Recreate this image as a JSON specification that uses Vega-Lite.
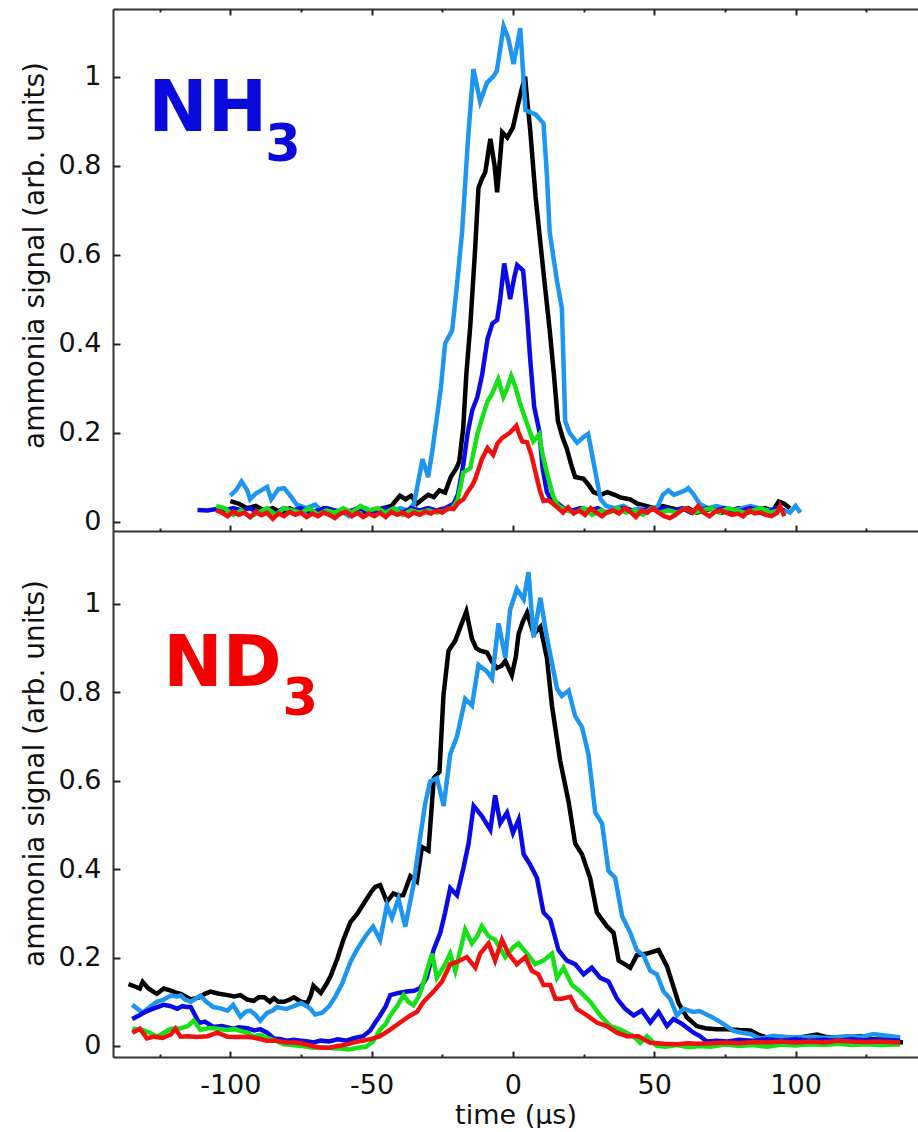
{
"$schema": "https://vega.github.io/schema/vega-lite/v6.json",
"padding": {"left": 20, "top": 8, "right": 0, "bottom": 0},
"autosize": {"type": "pad"},
"spacing": 0,
"bounds": "flush",
"config": {
  "view": {"stroke": null},
  "font": "DejaVu Sans",
  "axis": {"domainColor": "#333", "domainWidth": 2, "tickColor": "#222", "tickWidth": 2, "grid": false,
           "labelFont": "DejaVu Sans", "labelFontSize": 27, "labelColor": "#111", "titleFont": "DejaVu Sans", "titleFontSize": 28, "titleFontWeight": "normal", "titleColor": "#111"}
},
"datasets": {
"nh3": [
{"s":"black","t":-100,"v":0.046},{"s":"black","t":-97,"v":0.04},{"s":"black","t":-94,"v":0.03},{"s":"black","t":-91,"v":0.035},{"s":"black","t":-88,"v":0.025},{"s":"black","t":-85,"v":0.03},{"s":"black","t":-82,"v":0.02},{"s":"black","t":-79,"v":0.03},{"s":"black","t":-76,"v":0.02},{"s":"black","t":-73,"v":0.025},{"s":"black","t":-70,"v":0.02},{"s":"black","t":-67,"v":0.03},{"s":"black","t":-64,"v":0.02},{"s":"black","t":-61,"v":0.025},{"s":"black","t":-58,"v":0.02},{"s":"black","t":-55,"v":0.03},{"s":"black","t":-52,"v":0.02},{"s":"black","t":-49,"v":0.025},{"s":"black","t":-46,"v":0.03},{"s":"black","t":-43,"v":0.035},{"s":"black","t":-40,"v":0.058},{"s":"black","t":-38,"v":0.05},{"s":"black","t":-36,"v":0.058},{"s":"black","t":-34,"v":0.04},{"s":"black","t":-32,"v":0.05},{"s":"black","t":-30,"v":0.06},{"s":"black","t":-28,"v":0.055},{"s":"black","t":-26,"v":0.07},{"s":"black","t":-24,"v":0.065},{"s":"black","t":-22,"v":0.1},{"s":"black","t":-20,"v":0.12},{"s":"black","t":-19,"v":0.135},{"s":"black","t":-17.6,"v":0.21},{"s":"black","t":-16.5,"v":0.33},{"s":"black","t":-15.1,"v":0.44},{"s":"black","t":-13.5,"v":0.6},{"s":"black","t":-12.2,"v":0.75},{"s":"black","t":-11,"v":0.77},{"s":"black","t":-9.8,"v":0.785},{"s":"black","t":-8,"v":0.86},{"s":"black","t":-6.5,"v":0.8},{"s":"black","t":-5.6,"v":0.74},{"s":"black","t":-4.5,"v":0.82},{"s":"black","t":-3.8,"v":0.875},{"s":"black","t":-2,"v":0.863},{"s":"black","t":0,"v":0.886},{"s":"black","t":1.9,"v":0.94},{"s":"black","t":3,"v":0.97},{"s":"black","t":4.3,"v":1.0},{"s":"black","t":5,"v":0.95},{"s":"black","t":6.1,"v":0.88},{"s":"black","t":8,"v":0.73},{"s":"black","t":10.8,"v":0.56},{"s":"black","t":13,"v":0.43},{"s":"black","t":14.5,"v":0.33},{"s":"black","t":15.9,"v":0.226},{"s":"black","t":17.5,"v":0.19},{"s":"black","t":19,"v":0.165},{"s":"black","t":20.5,"v":0.13},{"s":"black","t":22,"v":0.1},{"s":"black","t":25,"v":0.096},{"s":"black","t":27,"v":0.08},{"s":"black","t":28.5,"v":0.066},{"s":"black","t":31,"v":0.06},{"s":"black","t":33.4,"v":0.066},{"s":"black","t":36,"v":0.06},{"s":"black","t":38,"v":0.054},{"s":"black","t":41.5,"v":0.05},{"s":"black","t":44,"v":0.04},{"s":"black","t":47,"v":0.035},{"s":"black","t":50,"v":0.03},{"s":"black","t":53,"v":0.035},{"s":"black","t":56,"v":0.03},{"s":"black","t":59,"v":0.025},{"s":"black","t":62,"v":0.03},{"s":"black","t":65,"v":0.02},{"s":"black","t":68,"v":0.025},{"s":"black","t":71,"v":0.03},{"s":"black","t":74,"v":0.02},{"s":"black","t":77,"v":0.025},{"s":"black","t":80,"v":0.03},{"s":"black","t":83,"v":0.02},{"s":"black","t":86,"v":0.025},{"s":"black","t":89,"v":0.03},{"s":"black","t":92,"v":0.025},{"s":"black","t":94,"v":0.045},{"s":"black","t":96,"v":0.04},{"s":"black","t":98,"v":0.03},
{"s":"sky","t":-100,"v":0.058},{"s":"sky","t":-98,"v":0.07},{"s":"sky","t":-96,"v":0.09},{"s":"sky","t":-94,"v":0.07},{"s":"sky","t":-93,"v":0.05},{"s":"sky","t":-91,"v":0.063},{"s":"sky","t":-89,"v":0.07},{"s":"sky","t":-87,"v":0.078},{"s":"sky","t":-85.5,"v":0.05},{"s":"sky","t":-83,"v":0.073},{"s":"sky","t":-81,"v":0.075},{"s":"sky","t":-79,"v":0.06},{"s":"sky","t":-76.5,"v":0.038},{"s":"sky","t":-73,"v":0.03},{"s":"sky","t":-70,"v":0.038},{"s":"sky","t":-67,"v":0.02},{"s":"sky","t":-64,"v":0.015},{"s":"sky","t":-61,"v":0.025},{"s":"sky","t":-58,"v":0.012},{"s":"sky","t":-55,"v":0.02},{"s":"sky","t":-52,"v":0.03},{"s":"sky","t":-49,"v":0.015},{"s":"sky","t":-46,"v":0.025},{"s":"sky","t":-43,"v":0.02},{"s":"sky","t":-40,"v":0.03},{"s":"sky","t":-37,"v":0.025},{"s":"sky","t":-35,"v":0.04},{"s":"sky","t":-33.5,"v":0.09},{"s":"sky","t":-32,"v":0.14},{"s":"sky","t":-30,"v":0.1},{"s":"sky","t":-28.5,"v":0.16},{"s":"sky","t":-27,"v":0.23},{"s":"sky","t":-25.5,"v":0.3},{"s":"sky","t":-24,"v":0.4},{"s":"sky","t":-21.5,"v":0.43},{"s":"sky","t":-20,"v":0.52},{"s":"sky","t":-18,"v":0.65},{"s":"sky","t":-16,"v":0.85},{"s":"sky","t":-14,"v":1.017},{"s":"sky","t":-11.6,"v":0.944},{"s":"sky","t":-9.2,"v":0.986},{"s":"sky","t":-7,"v":1.0},{"s":"sky","t":-5.7,"v":1.013},{"s":"sky","t":-3.3,"v":1.113},{"s":"sky","t":-1.6,"v":1.085},{"s":"sky","t":0.2,"v":1.028},{"s":"sky","t":2.6,"v":1.109},{"s":"sky","t":4.4,"v":0.925},{"s":"sky","t":6,"v":0.92},{"s":"sky","t":8,"v":0.915},{"s":"sky","t":10.8,"v":0.895},{"s":"sky","t":12,"v":0.78},{"s":"sky","t":13,"v":0.65},{"s":"sky","t":15.6,"v":0.54},{"s":"sky","t":17.3,"v":0.48},{"s":"sky","t":18.5,"v":0.225},{"s":"sky","t":20,"v":0.2},{"s":"sky","t":22.7,"v":0.177},{"s":"sky","t":25,"v":0.19},{"s":"sky","t":26.6,"v":0.197},{"s":"sky","t":28,"v":0.15},{"s":"sky","t":29.5,"v":0.1},{"s":"sky","t":31,"v":0.05},{"s":"sky","t":33,"v":0.035},{"s":"sky","t":36,"v":0.03},{"s":"sky","t":39,"v":0.035},{"s":"sky","t":42,"v":0.025},{"s":"sky","t":45,"v":0.03},{"s":"sky","t":48,"v":0.025},{"s":"sky","t":51,"v":0.03},{"s":"sky","t":53,"v":0.06},{"s":"sky","t":55,"v":0.07},{"s":"sky","t":57,"v":0.06},{"s":"sky","t":59,"v":0.065},{"s":"sky","t":61,"v":0.07},{"s":"sky","t":62,"v":0.075},{"s":"sky","t":64,"v":0.06},{"s":"sky","t":66,"v":0.04},{"s":"sky","t":69,"v":0.03},{"s":"sky","t":72,"v":0.035},{"s":"sky","t":75,"v":0.03},{"s":"sky","t":78,"v":0.025},{"s":"sky","t":81,"v":0.03},{"s":"sky","t":84,"v":0.035},{"s":"sky","t":87,"v":0.03},{"s":"sky","t":90,"v":0.025},{"s":"sky","t":93,"v":0.03},{"s":"sky","t":96,"v":0.025},{"s":"sky","t":98,"v":0.02},{"s":"sky","t":100,"v":0.035},{"s":"sky","t":101.7,"v":0.02},
{"s":"blue","t":-111.6,"v":0.026},{"s":"blue","t":-108,"v":0.025},{"s":"blue","t":-105,"v":0.028},{"s":"blue","t":-102,"v":0.025},{"s":"blue","t":-99,"v":0.03},{"s":"blue","t":-96,"v":0.025},{"s":"blue","t":-93,"v":0.03},{"s":"blue","t":-90,"v":0.02},{"s":"blue","t":-87,"v":0.025},{"s":"blue","t":-84,"v":0.02},{"s":"blue","t":-81,"v":0.03},{"s":"blue","t":-78,"v":0.025},{"s":"blue","t":-75,"v":0.03},{"s":"blue","t":-72,"v":0.02},{"s":"blue","t":-69,"v":0.025},{"s":"blue","t":-66,"v":0.03},{"s":"blue","t":-63,"v":0.025},{"s":"blue","t":-60,"v":0.02},{"s":"blue","t":-57,"v":0.025},{"s":"blue","t":-54,"v":0.03},{"s":"blue","t":-51,"v":0.02},{"s":"blue","t":-48,"v":0.025},{"s":"blue","t":-45,"v":0.03},{"s":"blue","t":-42,"v":0.025},{"s":"blue","t":-39,"v":0.02},{"s":"blue","t":-36,"v":0.03},{"s":"blue","t":-33,"v":0.025},{"s":"blue","t":-30,"v":0.03},{"s":"blue","t":-27,"v":0.025},{"s":"blue","t":-24,"v":0.03},{"s":"blue","t":-21,"v":0.04},{"s":"blue","t":-19.5,"v":0.06},{"s":"blue","t":-17.6,"v":0.127},{"s":"blue","t":-16,"v":0.2},{"s":"blue","t":-14.4,"v":0.25},{"s":"blue","t":-12.6,"v":0.28},{"s":"blue","t":-10.9,"v":0.33},{"s":"blue","t":-9,"v":0.41},{"s":"blue","t":-7.3,"v":0.445},{"s":"blue","t":-5.6,"v":0.453},{"s":"blue","t":-4.5,"v":0.5},{"s":"blue","t":-3.1,"v":0.58},{"s":"blue","t":-2,"v":0.54},{"s":"blue","t":-1,"v":0.5},{"s":"blue","t":0.5,"v":0.55},{"s":"blue","t":1.5,"v":0.576},{"s":"blue","t":3.6,"v":0.564},{"s":"blue","t":5,"v":0.464},{"s":"blue","t":6.1,"v":0.365},{"s":"blue","t":7.5,"v":0.258},{"s":"blue","t":9.3,"v":0.204},{"s":"blue","t":10.5,"v":0.12},{"s":"blue","t":12,"v":0.066},{"s":"blue","t":13.5,"v":0.05},{"s":"blue","t":15.6,"v":0.042},{"s":"blue","t":18,"v":0.03},{"s":"blue","t":21,"v":0.025},{"s":"blue","t":24,"v":0.03},{"s":"blue","t":27,"v":0.025},{"s":"blue","t":30,"v":0.03},{"s":"blue","t":33,"v":0.02},{"s":"blue","t":36,"v":0.025},{"s":"blue","t":39,"v":0.03},{"s":"blue","t":42,"v":0.025},{"s":"blue","t":45,"v":0.02},{"s":"blue","t":48,"v":0.03},{"s":"blue","t":51,"v":0.025},{"s":"blue","t":54,"v":0.03},{"s":"blue","t":57,"v":0.025},{"s":"blue","t":60,"v":0.03},{"s":"blue","t":63,"v":0.02},{"s":"blue","t":66,"v":0.025},{"s":"blue","t":69,"v":0.03},{"s":"blue","t":72,"v":0.025},{"s":"blue","t":75,"v":0.03},{"s":"blue","t":78,"v":0.02},{"s":"blue","t":81,"v":0.025},{"s":"blue","t":84,"v":0.03},{"s":"blue","t":87,"v":0.025},{"s":"blue","t":90,"v":0.02},{"s":"blue","t":93,"v":0.03},{"s":"blue","t":96,"v":0.025},
{"s":"green","t":-105,"v":0.035},{"s":"green","t":-102,"v":0.03},{"s":"green","t":-99,"v":0.015},{"s":"green","t":-96,"v":0.025},{"s":"green","t":-93,"v":0.01},{"s":"green","t":-90,"v":0.02},{"s":"green","t":-87,"v":0.03},{"s":"green","t":-84,"v":0.015},{"s":"green","t":-81,"v":0.03},{"s":"green","t":-78,"v":0.025},{"s":"green","t":-75,"v":0.02},{"s":"green","t":-72,"v":0.03},{"s":"green","t":-69,"v":0.015},{"s":"green","t":-66,"v":0.025},{"s":"green","t":-63,"v":0.02},{"s":"green","t":-60,"v":0.03},{"s":"green","t":-57,"v":0.02},{"s":"green","t":-54,"v":0.035},{"s":"green","t":-51,"v":0.025},{"s":"green","t":-48,"v":0.03},{"s":"green","t":-45,"v":0.02},{"s":"green","t":-42,"v":0.03},{"s":"green","t":-39,"v":0.015},{"s":"green","t":-36,"v":0.025},{"s":"green","t":-33,"v":0.02},{"s":"green","t":-30,"v":0.025},{"s":"green","t":-27,"v":0.02},{"s":"green","t":-24,"v":0.025},{"s":"green","t":-21.5,"v":0.03},{"s":"green","t":-19.7,"v":0.046},{"s":"green","t":-18.5,"v":0.08},{"s":"green","t":-17.6,"v":0.11},{"s":"green","t":-15.1,"v":0.12},{"s":"green","t":-12.6,"v":0.196},{"s":"green","t":-11,"v":0.23},{"s":"green","t":-9,"v":0.27},{"s":"green","t":-7.3,"v":0.288},{"s":"green","t":-5.2,"v":0.32},{"s":"green","t":-3.4,"v":0.28},{"s":"green","t":-2,"v":0.3},{"s":"green","t":-0.6,"v":0.327},{"s":"green","t":1,"v":0.3},{"s":"green","t":2.5,"v":0.265},{"s":"green","t":5,"v":0.22},{"s":"green","t":7.2,"v":0.18},{"s":"green","t":9.3,"v":0.196},{"s":"green","t":10.5,"v":0.15},{"s":"green","t":12,"v":0.11},{"s":"green","t":14.2,"v":0.058},{"s":"green","t":16,"v":0.035},{"s":"green","t":19,"v":0.025},{"s":"green","t":22,"v":0.02},{"s":"green","t":25,"v":0.03},{"s":"green","t":28,"v":0.015},{"s":"green","t":31,"v":0.025},{"s":"green","t":34,"v":0.02},{"s":"green","t":37,"v":0.03},{"s":"green","t":40,"v":0.02},{"s":"green","t":43,"v":0.025},{"s":"green","t":46,"v":0.015},{"s":"green","t":49,"v":0.03},{"s":"green","t":52,"v":0.02},{"s":"green","t":55,"v":0.025},{"s":"green","t":58,"v":0.02},{"s":"green","t":61,"v":0.03},{"s":"green","t":64,"v":0.02},{"s":"green","t":67,"v":0.025},{"s":"green","t":70,"v":0.03},{"s":"green","t":73,"v":0.02},{"s":"green","t":76,"v":0.03},{"s":"green","t":79,"v":0.025},{"s":"green","t":82,"v":0.02},{"s":"green","t":85,"v":0.025},{"s":"green","t":88,"v":0.03},{"s":"green","t":91,"v":0.02},{"s":"green","t":94,"v":0.025},
{"s":"red","t":-105,"v":0.025},{"s":"red","t":-103,"v":0.02},{"s":"red","t":-101,"v":0.012},{"s":"red","t":-99,"v":0.022},{"s":"red","t":-97,"v":0.015},{"s":"red","t":-95,"v":0.02},{"s":"red","t":-93,"v":0.01},{"s":"red","t":-91,"v":0.022},{"s":"red","t":-89,"v":0.014},{"s":"red","t":-87,"v":0.02},{"s":"red","t":-85,"v":0.006},{"s":"red","t":-83,"v":0.018},{"s":"red","t":-81,"v":0.012},{"s":"red","t":-79,"v":0.022},{"s":"red","t":-77,"v":0.015},{"s":"red","t":-75,"v":0.02},{"s":"red","t":-73,"v":0.01},{"s":"red","t":-71,"v":0.018},{"s":"red","t":-69,"v":0.012},{"s":"red","t":-67,"v":0.02},{"s":"red","t":-65,"v":0.015},{"s":"red","t":-63,"v":0.008},{"s":"red","t":-61,"v":0.018},{"s":"red","t":-59,"v":0.022},{"s":"red","t":-57,"v":0.012},{"s":"red","t":-55,"v":0.02},{"s":"red","t":-53,"v":0.01},{"s":"red","t":-51,"v":0.018},{"s":"red","t":-49,"v":0.012},{"s":"red","t":-47,"v":0.02},{"s":"red","t":-45,"v":0.01},{"s":"red","t":-43,"v":0.022},{"s":"red","t":-41,"v":0.015},{"s":"red","t":-39,"v":0.02},{"s":"red","t":-37,"v":0.012},{"s":"red","t":-35,"v":0.02},{"s":"red","t":-33,"v":0.015},{"s":"red","t":-31,"v":0.022},{"s":"red","t":-29,"v":0.018},{"s":"red","t":-27,"v":0.025},{"s":"red","t":-25,"v":0.02},{"s":"red","t":-23,"v":0.03},{"s":"red","t":-21,"v":0.028},{"s":"red","t":-19.4,"v":0.042},{"s":"red","t":-17.5,"v":0.05},{"s":"red","t":-16.1,"v":0.066},{"s":"red","t":-14.5,"v":0.08},{"s":"red","t":-13.3,"v":0.096},{"s":"red","t":-11,"v":0.14},{"s":"red","t":-9,"v":0.165},{"s":"red","t":-7,"v":0.15},{"s":"red","t":-5.5,"v":0.175},{"s":"red","t":-3.8,"v":0.188},{"s":"red","t":-1,"v":0.2},{"s":"red","t":1.2,"v":0.215},{"s":"red","t":2,"v":0.2},{"s":"red","t":3.3,"v":0.18},{"s":"red","t":5,"v":0.178},{"s":"red","t":6.5,"v":0.15},{"s":"red","t":8,"v":0.11},{"s":"red","t":9.5,"v":0.07},{"s":"red","t":10.8,"v":0.046},{"s":"red","t":12.5,"v":0.048},{"s":"red","t":14.2,"v":0.04},{"s":"red","t":16,"v":0.03},{"s":"red","t":17.7,"v":0.02},{"s":"red","t":19.5,"v":0.032},{"s":"red","t":21.5,"v":0.018},{"s":"red","t":23.5,"v":0.025},{"s":"red","t":25.5,"v":0.015},{"s":"red","t":27.5,"v":0.03},{"s":"red","t":29.5,"v":0.02},{"s":"red","t":31.5,"v":0.012},{"s":"red","t":33.5,"v":0.022},{"s":"red","t":35.5,"v":0.025},{"s":"red","t":37.5,"v":0.018},{"s":"red","t":39.5,"v":0.03},{"s":"red","t":41.5,"v":0.022},{"s":"red","t":43.5,"v":0.01},{"s":"red","t":45.5,"v":0.025},{"s":"red","t":47.5,"v":0.02},{"s":"red","t":49.5,"v":0.03},{"s":"red","t":51.5,"v":0.02},{"s":"red","t":53.5,"v":0.012},{"s":"red","t":55.5,"v":0.008},{"s":"red","t":57.5,"v":0.015},{"s":"red","t":59.5,"v":0.025},{"s":"red","t":61.5,"v":0.03},{"s":"red","t":63.5,"v":0.02},{"s":"red","t":65.5,"v":0.035},{"s":"red","t":67.5,"v":0.02},{"s":"red","t":69.5,"v":0.012},{"s":"red","t":71.5,"v":0.022},{"s":"red","t":73.5,"v":0.025},{"s":"red","t":75.5,"v":0.02},{"s":"red","t":77.5,"v":0.015},{"s":"red","t":79.5,"v":0.018},{"s":"red","t":81.5,"v":0.012},{"s":"red","t":83.5,"v":0.025},{"s":"red","t":85.5,"v":0.018},{"s":"red","t":87.5,"v":0.02},{"s":"red","t":89.5,"v":0.015},{"s":"red","t":91.5,"v":0.012},{"s":"red","t":93.5,"v":0.02},{"s":"red","t":94.5,"v":0.035},{"s":"red","t":96,"v":0.012}
],
"nd3": [
{"s":"black","t":-136,"v":0.14},{"s":"black","t":-134,"v":0.135},{"s":"black","t":-132,"v":0.13},{"s":"black","t":-131,"v":0.145},{"s":"black","t":-129,"v":0.13},{"s":"black","t":-126,"v":0.118},{"s":"black","t":-123.5,"v":0.13},{"s":"black","t":-121,"v":0.125},{"s":"black","t":-119,"v":0.12},{"s":"black","t":-117.5,"v":0.118},{"s":"black","t":-114,"v":0.105},{"s":"black","t":-111,"v":0.11},{"s":"black","t":-109,"v":0.118},{"s":"black","t":-107,"v":0.123},{"s":"black","t":-104,"v":0.118},{"s":"black","t":-101,"v":0.115},{"s":"black","t":-98.5,"v":0.112},{"s":"black","t":-96.4,"v":0.115},{"s":"black","t":-94,"v":0.105},{"s":"black","t":-91.7,"v":0.102},{"s":"black","t":-90,"v":0.11},{"s":"black","t":-88,"v":0.11},{"s":"black","t":-86,"v":0.1},{"s":"black","t":-84.6,"v":0.108},{"s":"black","t":-83,"v":0.1},{"s":"black","t":-81,"v":0.1},{"s":"black","t":-79,"v":0.105},{"s":"black","t":-77.5,"v":0.11},{"s":"black","t":-75,"v":0.1},{"s":"black","t":-72.8,"v":0.097},{"s":"black","t":-71.5,"v":0.115},{"s":"black","t":-70.6,"v":0.136},{"s":"black","t":-68,"v":0.12},{"s":"black","t":-66,"v":0.14},{"s":"black","t":-64.5,"v":0.158},{"s":"black","t":-62,"v":0.2},{"s":"black","t":-60,"v":0.24},{"s":"black","t":-57.5,"v":0.28},{"s":"black","t":-55,"v":0.3},{"s":"black","t":-52,"v":0.33},{"s":"black","t":-50,"v":0.35},{"s":"black","t":-48.7,"v":0.36},{"s":"black","t":-47,"v":0.364},{"s":"black","t":-44.6,"v":0.326},{"s":"black","t":-42.3,"v":0.345},{"s":"black","t":-40.5,"v":0.34},{"s":"black","t":-38.8,"v":0.341},{"s":"black","t":-36.3,"v":0.384},{"s":"black","t":-34,"v":0.372},{"s":"black","t":-32.2,"v":0.45},{"s":"black","t":-29.9,"v":0.442},{"s":"black","t":-28,"v":0.606},{"s":"black","t":-26,"v":0.62},{"s":"black","t":-24.6,"v":0.792},{"s":"black","t":-22.8,"v":0.894},{"s":"black","t":-20.4,"v":0.917},{"s":"black","t":-18.6,"v":0.948},{"s":"black","t":-16.5,"v":0.983},{"s":"black","t":-14.5,"v":0.921},{"s":"black","t":-13,"v":0.9},{"s":"black","t":-11.6,"v":0.894},{"s":"black","t":-9.2,"v":0.89},{"s":"black","t":-7.5,"v":0.87},{"s":"black","t":-5.7,"v":0.855},{"s":"black","t":-4,"v":0.86},{"s":"black","t":-2.7,"v":0.871},{"s":"black","t":-0.4,"v":0.839},{"s":"black","t":1,"v":0.88},{"s":"black","t":2,"v":0.932},{"s":"black","t":3.5,"v":0.96},{"s":"black","t":5,"v":0.98},{"s":"black","t":7.3,"v":0.932},{"s":"black","t":9.7,"v":0.948},{"s":"black","t":12,"v":0.878},{"s":"black","t":13.8,"v":0.77},{"s":"black","t":16.7,"v":0.645},{"s":"black","t":19.7,"v":0.552},{"s":"black","t":22,"v":0.458},{"s":"black","t":24.4,"v":0.434},{"s":"black","t":27.3,"v":0.38},{"s":"black","t":29.7,"v":0.302},{"s":"black","t":33.2,"v":0.271},{"s":"black","t":35.6,"v":0.256},{"s":"black","t":37.4,"v":0.193},{"s":"black","t":39.5,"v":0.185},{"s":"black","t":41.5,"v":0.177},{"s":"black","t":43.8,"v":0.205},{"s":"black","t":47.4,"v":0.209},{"s":"black","t":51.5,"v":0.217},{"s":"black","t":54.5,"v":0.18},{"s":"black","t":56.5,"v":0.14},{"s":"black","t":58.6,"v":0.097},{"s":"black","t":61.5,"v":0.065},{"s":"black","t":65,"v":0.045},{"s":"black","t":68,"v":0.04},{"s":"black","t":72,"v":0.038},{"s":"black","t":75.8,"v":0.038},{"s":"black","t":80,"v":0.036},{"s":"black","t":84,"v":0.035},{"s":"black","t":87,"v":0.025},{"s":"black","t":90,"v":0.019},{"s":"black","t":95,"v":0.02},{"s":"black","t":101.7,"v":0.019},{"s":"black","t":104,"v":0.022},{"s":"black","t":107.6,"v":0.026},{"s":"black","t":111,"v":0.02},{"s":"black","t":115,"v":0.018},{"s":"black","t":119,"v":0.02},{"s":"black","t":123,"v":0.022},{"s":"black","t":127.5,"v":0.015},{"s":"black","t":131,"v":0.014},{"s":"black","t":135,"v":0.01},{"s":"black","t":138,"v":0.008},
{"s":"sky","t":-134.7,"v":0.093},{"s":"sky","t":-133,"v":0.085},{"s":"sky","t":-131,"v":0.075},{"s":"sky","t":-128.5,"v":0.088},{"s":"sky","t":-126,"v":0.1},{"s":"sky","t":-123.5,"v":0.105},{"s":"sky","t":-121,"v":0.114},{"s":"sky","t":-119,"v":0.112},{"s":"sky","t":-117.6,"v":0.114},{"s":"sky","t":-116,"v":0.105},{"s":"sky","t":-114,"v":0.1},{"s":"sky","t":-112,"v":0.108},{"s":"sky","t":-110.6,"v":0.114},{"s":"sky","t":-108.5,"v":0.1},{"s":"sky","t":-106,"v":0.088},{"s":"sky","t":-103.5,"v":0.085},{"s":"sky","t":-101,"v":0.08},{"s":"sky","t":-99,"v":0.093},{"s":"sky","t":-96.4,"v":0.066},{"s":"sky","t":-94.5,"v":0.078},{"s":"sky","t":-93,"v":0.08},{"s":"sky","t":-91,"v":0.07},{"s":"sky","t":-89.4,"v":0.057},{"s":"sky","t":-87,"v":0.075},{"s":"sky","t":-85,"v":0.08},{"s":"sky","t":-83.5,"v":0.088},{"s":"sky","t":-81.5,"v":0.085},{"s":"sky","t":-80,"v":0.084},{"s":"sky","t":-77.5,"v":0.09},{"s":"sky","t":-75,"v":0.097},{"s":"sky","t":-73,"v":0.09},{"s":"sky","t":-71.6,"v":0.084},{"s":"sky","t":-70,"v":0.071},{"s":"sky","t":-67.5,"v":0.075},{"s":"sky","t":-65,"v":0.09},{"s":"sky","t":-63,"v":0.11},{"s":"sky","t":-60.5,"v":0.14},{"s":"sky","t":-57.5,"v":0.19},{"s":"sky","t":-55,"v":0.22},{"s":"sky","t":-52,"v":0.25},{"s":"sky","t":-49.5,"v":0.27},{"s":"sky","t":-47,"v":0.24},{"s":"sky","t":-44.6,"v":0.318},{"s":"sky","t":-42.8,"v":0.29},{"s":"sky","t":-40.5,"v":0.333},{"s":"sky","t":-38.1,"v":0.27},{"s":"sky","t":-35.2,"v":0.364},{"s":"sky","t":-32.8,"v":0.473},{"s":"sky","t":-31,"v":0.55},{"s":"sky","t":-29.3,"v":0.598},{"s":"sky","t":-26.9,"v":0.606},{"s":"sky","t":-24.5,"v":0.543},{"s":"sky","t":-22.2,"v":0.66},{"s":"sky","t":-19.8,"v":0.7},{"s":"sky","t":-16.9,"v":0.785},{"s":"sky","t":-14.5,"v":0.77},{"s":"sky","t":-12.2,"v":0.862},{"s":"sky","t":-9.2,"v":0.847},{"s":"sky","t":-7.4,"v":0.831},{"s":"sky","t":-5.1,"v":0.956},{"s":"sky","t":-2.7,"v":0.878},{"s":"sky","t":-1,"v":0.987},{"s":"sky","t":1.4,"v":1.034},{"s":"sky","t":3.8,"v":1.01},{"s":"sky","t":5.5,"v":1.072},{"s":"sky","t":7.3,"v":0.925},{"s":"sky","t":9.7,"v":1.014},{"s":"sky","t":12,"v":0.925},{"s":"sky","t":15.6,"v":0.808},{"s":"sky","t":17.3,"v":0.792},{"s":"sky","t":19.7,"v":0.804},{"s":"sky","t":22,"v":0.746},{"s":"sky","t":24.4,"v":0.722},{"s":"sky","t":26.7,"v":0.66},{"s":"sky","t":29.1,"v":0.528},{"s":"sky","t":31.5,"v":0.504},{"s":"sky","t":33.8,"v":0.396},{"s":"sky","t":36.2,"v":0.38},{"s":"sky","t":38.6,"v":0.294},{"s":"sky","t":41.5,"v":0.256},{"s":"sky","t":43.8,"v":0.217},{"s":"sky","t":46.2,"v":0.205},{"s":"sky","t":48.6,"v":0.17},{"s":"sky","t":50.9,"v":0.162},{"s":"sky","t":53.3,"v":0.123},{"s":"sky","t":55.6,"v":0.107},{"s":"sky","t":58,"v":0.069},{"s":"sky","t":60.3,"v":0.084},{"s":"sky","t":63.8,"v":0.077},{"s":"sky","t":66,"v":0.079},{"s":"sky","t":70.8,"v":0.064},{"s":"sky","t":74.4,"v":0.05},{"s":"sky","t":78,"v":0.034},{"s":"sky","t":81,"v":0.03},{"s":"sky","t":84,"v":0.027},{"s":"sky","t":87.5,"v":0.016},{"s":"sky","t":90,"v":0.02},{"s":"sky","t":92,"v":0.023},{"s":"sky","t":96,"v":0.02},{"s":"sky","t":101.7,"v":0.019},{"s":"sky","t":106,"v":0.021},{"s":"sky","t":110,"v":0.018},{"s":"sky","t":113,"v":0.019},{"s":"sky","t":118,"v":0.022},{"s":"sky","t":123,"v":0.02},{"s":"sky","t":127.5,"v":0.027},{"s":"sky","t":130,"v":0.025},{"s":"sky","t":134,"v":0.022},{"s":"sky","t":137,"v":0.019},
{"s":"blue","t":-134.7,"v":0.061},{"s":"blue","t":-132,"v":0.07},{"s":"blue","t":-129.5,"v":0.079},{"s":"blue","t":-127,"v":0.085},{"s":"blue","t":-123.6,"v":0.093},{"s":"blue","t":-121,"v":0.09},{"s":"blue","t":-118.8,"v":0.084},{"s":"blue","t":-117,"v":0.09},{"s":"blue","t":-115.3,"v":0.088},{"s":"blue","t":-114,"v":0.088},{"s":"blue","t":-112.5,"v":0.07},{"s":"blue","t":-111,"v":0.052},{"s":"blue","t":-109,"v":0.055},{"s":"blue","t":-106,"v":0.043},{"s":"blue","t":-103,"v":0.045},{"s":"blue","t":-99,"v":0.039},{"s":"blue","t":-97,"v":0.042},{"s":"blue","t":-94,"v":0.04},{"s":"blue","t":-91.5,"v":0.035},{"s":"blue","t":-89.4,"v":0.038},{"s":"blue","t":-87,"v":0.03},{"s":"blue","t":-84.6,"v":0.017},{"s":"blue","t":-82,"v":0.015},{"s":"blue","t":-80,"v":0.012},{"s":"blue","t":-77.5,"v":0.014},{"s":"blue","t":-75,"v":0.012},{"s":"blue","t":-72.5,"v":0.01},{"s":"blue","t":-70.6,"v":0.008},{"s":"blue","t":-68,"v":0.012},{"s":"blue","t":-65,"v":0.01},{"s":"blue","t":-62,"v":0.015},{"s":"blue","t":-59,"v":0.012},{"s":"blue","t":-56,"v":0.018},{"s":"blue","t":-53,"v":0.022},{"s":"blue","t":-50.5,"v":0.035},{"s":"blue","t":-49,"v":0.05},{"s":"blue","t":-47,"v":0.069},{"s":"blue","t":-45,"v":0.09},{"s":"blue","t":-43.4,"v":0.115},{"s":"blue","t":-40.5,"v":0.12},{"s":"blue","t":-37.5,"v":0.123},{"s":"blue","t":-35,"v":0.125},{"s":"blue","t":-32.8,"v":0.131},{"s":"blue","t":-30.5,"v":0.154},{"s":"blue","t":-28.1,"v":0.217},{"s":"blue","t":-25.7,"v":0.256},{"s":"blue","t":-24,"v":0.302},{"s":"blue","t":-22.2,"v":0.357},{"s":"blue","t":-19.8,"v":0.341},{"s":"blue","t":-17.5,"v":0.403},{"s":"blue","t":-15.7,"v":0.458},{"s":"blue","t":-13.9,"v":0.543},{"s":"blue","t":-11,"v":0.52},{"s":"blue","t":-8,"v":0.489},{"s":"blue","t":-6.3,"v":0.567},{"s":"blue","t":-4.5,"v":0.504},{"s":"blue","t":-2.1,"v":0.528},{"s":"blue","t":0,"v":0.482},{"s":"blue","t":2,"v":0.512},{"s":"blue","t":3.8,"v":0.434},{"s":"blue","t":6.1,"v":0.41},{"s":"blue","t":8.5,"v":0.38},{"s":"blue","t":10.8,"v":0.302},{"s":"blue","t":13.2,"v":0.286},{"s":"blue","t":16.1,"v":0.217},{"s":"blue","t":19.1,"v":0.193},{"s":"blue","t":22,"v":0.185},{"s":"blue","t":25,"v":0.162},{"s":"blue","t":27.9,"v":0.177},{"s":"blue","t":30.9,"v":0.154},{"s":"blue","t":33.8,"v":0.146},{"s":"blue","t":36.8,"v":0.107},{"s":"blue","t":39.7,"v":0.084},{"s":"blue","t":42.7,"v":0.069},{"s":"blue","t":45.6,"v":0.08},{"s":"blue","t":48.6,"v":0.053},{"s":"blue","t":51.5,"v":0.077},{"s":"blue","t":54.5,"v":0.045},{"s":"blue","t":56.8,"v":0.061},{"s":"blue","t":59.8,"v":0.05},{"s":"blue","t":63.9,"v":0.03},{"s":"blue","t":66,"v":0.023},{"s":"blue","t":68.6,"v":0.01},{"s":"blue","t":72,"v":0.012},{"s":"blue","t":76,"v":0.01},{"s":"blue","t":80,"v":0.014},{"s":"blue","t":85,"v":0.012},{"s":"blue","t":90,"v":0.015},{"s":"blue","t":95,"v":0.012},{"s":"blue","t":100,"v":0.015},{"s":"blue","t":105,"v":0.012},{"s":"blue","t":110,"v":0.014},{"s":"blue","t":115,"v":0.012},{"s":"blue","t":120,"v":0.015},{"s":"blue","t":125,"v":0.012},{"s":"blue","t":130,"v":0.014},{"s":"blue","t":137,"v":0.012},
{"s":"green","t":-134.7,"v":0.039},{"s":"green","t":-131,"v":0.036},{"s":"green","t":-128.5,"v":0.03},{"s":"green","t":-126,"v":0.021},{"s":"green","t":-123.5,"v":0.03},{"s":"green","t":-121,"v":0.039},{"s":"green","t":-117.6,"v":0.04},{"s":"green","t":-115,"v":0.045},{"s":"green","t":-113,"v":0.057},{"s":"green","t":-111.5,"v":0.045},{"s":"green","t":-110.6,"v":0.036},{"s":"green","t":-108,"v":0.04},{"s":"green","t":-106,"v":0.04},{"s":"green","t":-103.5,"v":0.038},{"s":"green","t":-101,"v":0.036},{"s":"green","t":-98.5,"v":0.038},{"s":"green","t":-96.4,"v":0.034},{"s":"green","t":-94,"v":0.03},{"s":"green","t":-91.7,"v":0.021},{"s":"green","t":-89.5,"v":0.025},{"s":"green","t":-87,"v":0.018},{"s":"green","t":-84,"v":0.012},{"s":"green","t":-81,"v":0.004},{"s":"green","t":-78,"v":0.002},{"s":"green","t":-75,"v":0},{"s":"green","t":-72.5,"v":-0.002},{"s":"green","t":-70.6,"v":-0.004},{"s":"green","t":-67,"v":-0.003},{"s":"green","t":-64,"v":-0.005},{"s":"green","t":-61,"v":-0.006},{"s":"green","t":-58,"v":-0.008},{"s":"green","t":-55,"v":-0.004},{"s":"green","t":-52,"v":-0.002},{"s":"green","t":-49.5,"v":0.01},{"s":"green","t":-47,"v":0.037},{"s":"green","t":-45,"v":0.05},{"s":"green","t":-43.4,"v":0.069},{"s":"green","t":-41,"v":0.09},{"s":"green","t":-38.7,"v":0.115},{"s":"green","t":-37,"v":0.1},{"s":"green","t":-35.2,"v":0.092},{"s":"green","t":-33.5,"v":0.11},{"s":"green","t":-32.2,"v":0.131},{"s":"green","t":-30.5,"v":0.17},{"s":"green","t":-28.6,"v":0.209},{"s":"green","t":-26.9,"v":0.154},{"s":"green","t":-24,"v":0.185},{"s":"green","t":-22.2,"v":0.209},{"s":"green","t":-20.4,"v":0.17},{"s":"green","t":-18.5,"v":0.22},{"s":"green","t":-16.9,"v":0.263},{"s":"green","t":-14.5,"v":0.232},{"s":"green","t":-12.5,"v":0.25},{"s":"green","t":-11,"v":0.271},{"s":"green","t":-8.6,"v":0.248},{"s":"green","t":-6.3,"v":0.24},{"s":"green","t":-4.5,"v":0.22},{"s":"green","t":-2.7,"v":0.201},{"s":"green","t":0.2,"v":0.224},{"s":"green","t":2,"v":0.232},{"s":"green","t":3.5,"v":0.22},{"s":"green","t":5,"v":0.209},{"s":"green","t":7.9,"v":0.185},{"s":"green","t":10.8,"v":0.193},{"s":"green","t":13.8,"v":0.209},{"s":"green","t":15.6,"v":0.154},{"s":"green","t":17.9,"v":0.177},{"s":"green","t":20.9,"v":0.138},{"s":"green","t":23.8,"v":0.123},{"s":"green","t":27.3,"v":0.1},{"s":"green","t":30.9,"v":0.069},{"s":"green","t":34.4,"v":0.045},{"s":"green","t":38,"v":0.037},{"s":"green","t":42.7,"v":0.022},{"s":"green","t":45,"v":0.007},{"s":"green","t":47.4,"v":0.022},{"s":"green","t":50.9,"v":0.0},{"s":"green","t":54,"v":-0.002},{"s":"green","t":58,"v":0.002},{"s":"green","t":62,"v":-0.003},{"s":"green","t":66,"v":0.0},{"s":"green","t":70,"v":-0.002},{"s":"green","t":75,"v":0.003},{"s":"green","t":80,"v":0.0},{"s":"green","t":85,"v":0.002},{"s":"green","t":90,"v":-0.002},{"s":"green","t":95,"v":0.003},{"s":"green","t":100,"v":0.001},{"s":"green","t":105,"v":0.004},{"s":"green","t":110,"v":0.002},{"s":"green","t":115,"v":0.005},{"s":"green","t":120,"v":0.002},{"s":"green","t":125,"v":0.004},{"s":"green","t":130,"v":0.002},{"s":"green","t":137,"v":0.003},
{"s":"red","t":-134.7,"v":0.03},{"s":"red","t":-132,"v":0.039},{"s":"red","t":-129.5,"v":0.017},{"s":"red","t":-127,"v":0.021},{"s":"red","t":-124,"v":0.018},{"s":"red","t":-121,"v":0.026},{"s":"red","t":-119.4,"v":0.039},{"s":"red","t":-117.6,"v":0.021},{"s":"red","t":-115,"v":0.022},{"s":"red","t":-112,"v":0.02},{"s":"red","t":-110.6,"v":0.021},{"s":"red","t":-108,"v":0.022},{"s":"red","t":-104.6,"v":0.03},{"s":"red","t":-101,"v":0.021},{"s":"red","t":-98,"v":0.02},{"s":"red","t":-94,"v":0.021},{"s":"red","t":-91,"v":0.018},{"s":"red","t":-87,"v":0.012},{"s":"red","t":-84,"v":0.012},{"s":"red","t":-80,"v":0.008},{"s":"red","t":-77,"v":0.008},{"s":"red","t":-75,"v":0.006},{"s":"red","t":-71,"v":0.0},{"s":"red","t":-68,"v":-0.004},{"s":"red","t":-65,"v":-0.004},{"s":"red","t":-62,"v":0.0},{"s":"red","t":-59,"v":0.003},{"s":"red","t":-56,"v":0.008},{"s":"red","t":-53,"v":0.012},{"s":"red","t":-50,"v":0.016},{"s":"red","t":-47,"v":0.022},{"s":"red","t":-43.4,"v":0.037},{"s":"red","t":-39.9,"v":0.053},{"s":"red","t":-36.3,"v":0.069},{"s":"red","t":-34,"v":0.077},{"s":"red","t":-31.6,"v":0.1},{"s":"red","t":-28.1,"v":0.123},{"s":"red","t":-25.1,"v":0.146},{"s":"red","t":-22.2,"v":0.185},{"s":"red","t":-19.8,"v":0.19},{"s":"red","t":-16.3,"v":0.201},{"s":"red","t":-13.3,"v":0.177},{"s":"red","t":-11.6,"v":0.209},{"s":"red","t":-8.6,"v":0.232},{"s":"red","t":-6.3,"v":0.193},{"s":"red","t":-3.9,"v":0.24},{"s":"red","t":-1.6,"v":0.209},{"s":"red","t":1.4,"v":0.185},{"s":"red","t":4.4,"v":0.201},{"s":"red","t":6.7,"v":0.17},{"s":"red","t":9,"v":0.162},{"s":"red","t":10.8,"v":0.138},{"s":"red","t":13.2,"v":0.138},{"s":"red","t":15,"v":0.107},{"s":"red","t":17.3,"v":0.107},{"s":"red","t":20.3,"v":0.111},{"s":"red","t":22.6,"v":0.084},{"s":"red","t":26.2,"v":0.069},{"s":"red","t":29.7,"v":0.053},{"s":"red","t":33.2,"v":0.045},{"s":"red","t":36.8,"v":0.03},{"s":"red","t":40.3,"v":0.022},{"s":"red","t":44.4,"v":0.022},{"s":"red","t":48.6,"v":0.007},{"s":"red","t":53.3,"v":0.005},{"s":"red","t":58,"v":0.004},{"s":"red","t":62,"v":0.006},{"s":"red","t":65,"v":0.005},{"s":"red","t":70,"v":0.006},{"s":"red","t":75,"v":0.008},{"s":"red","t":80,"v":0.006},{"s":"red","t":85,"v":0.009},{"s":"red","t":90,"v":0.008},{"s":"red","t":95,"v":0.01},{"s":"red","t":100,"v":0.008},{"s":"red","t":105,"v":0.01},{"s":"red","t":110,"v":0.008},{"s":"red","t":115,"v":0.012},{"s":"red","t":120,"v":0.01},{"s":"red","t":125,"v":0.009},{"s":"red","t":130,"v":0.01},{"s":"red","t":137,"v":0.008}
],
"lab1": [{"txt": "NH", "t": -129, "v": 0.878}],
"sub1": [{"txt": "3", "t": -87.6, "v": 0.81}],
"lab2": [{"txt": "ND", "t": -123.7, "v": 0.814}],
"sub2": [{"txt": "3", "t": -81.5, "v": 0.749}]
},
"vconcat": [
{
  "width": 805, "height": 522,
  "layer": [
    {
      "data": {"name": "nh3"},
      "mark": {"type": "line", "strokeWidth": 4.5},
      "encoding": {
        "x": {"field": "t", "type": "quantitative", "scale": {"domain": [-141.5, 143.3], "nice": false, "zero": false},
              "axis": {"orient": "bottom", "ticks": false, "labels": false, "title": null}},
        "y": {"field": "v", "type": "quantitative", "scale": {"domain": [-0.0213, 1.152], "nice": false, "zero": false},
              "axis": {"orient": "left", "values": [0,0.2,0.4,0.6,0.8,1], "format": "~g", "ticks": false, "labelPadding": 12,
                       "title": "ammonia signal (arb. units)", "titleX": -70, "titleY": 246, "titleAngle": -90, "titleAlign": "center", "titleBaseline": "alphabetic"}},
        "color": {"field": "s", "type": "nominal", "legend": null,
                  "scale": {"domain": ["black","sky","blue","green","red"], "range": ["#000000","#1E96F0","#0A0AE6","#16E016","#F01010"]}}
      }
    },
    {
      "data": {"name": "lab1"},
      "mark": {"type": "text", "font": "DejaVu Sans", "fontWeight": "bold", "fontSize": 71, "color": "#0A0ADC", "align": "left", "baseline": "alphabetic"},
      "encoding": {
        "x": {"field": "t", "type": "quantitative", "scale": {"domain": [-141.5, 143.3], "nice": false, "zero": false},
              "axis": {"orient": "bottom", "values": [-100,-50,0,50,100], "domain": false, "labels": false, "title": null, "tickSize": 6, "offset": -6}},
        "y": {"field": "v", "type": "quantitative", "scale": {"domain": [-0.0213, 1.152], "nice": false, "zero": false},
              "axis": {"orient": "left", "values": [0,0.2,0.4,0.6,0.8,1], "domain": false, "labels": false, "title": null, "tickSize": 7, "offset": -7}},
        "text": {"field": "txt"}
      }
    },
    {
      "data": {"name": "sub1"},
      "mark": {"type": "text", "font": "DejaVu Sans", "fontWeight": "bold", "fontSize": 51, "color": "#0A0ADC", "align": "left", "baseline": "alphabetic"},
      "encoding": {
        "x": {"field": "t", "type": "quantitative", "scale": {"domain": [-141.5, 143.3], "nice": false, "zero": false},
              "axis": {"orient": "bottom", "values": [-125,-75,-25,25,75,125], "domain": false, "labels": false, "title": null, "tickSize": 3, "offset": -3}},
        "y": {"field": "v", "type": "quantitative", "axis": null},
        "text": {"field": "txt"}
      }
    },
    {
      "data": {"name": "lab1"},
      "mark": {"type": "text", "opacity": 0, "fontSize": 10},
      "encoding": {
        "x": {"field": "t", "type": "quantitative", "scale": {"domain": [-141.5, 143.3], "nice": false, "zero": false},
              "axis": {"orient": "top", "ticks": false, "labels": false, "title": null}},
        "y": {"field": "v", "type": "quantitative", "axis": null},
        "text": {"field": "txt"}
      }
    },
    {
      "data": {"name": "lab1"},
      "mark": {"type": "text", "opacity": 0, "fontSize": 10},
      "encoding": {
        "x": {"field": "t", "type": "quantitative", "scale": {"domain": [-141.5, 143.3], "nice": false, "zero": false},
              "axis": {"orient": "top", "values": [-100,-50,0,50,100], "domain": false, "labels": false, "title": null, "tickSize": 6, "offset": -6}},
        "y": {"field": "v", "type": "quantitative", "axis": null},
        "text": {"field": "txt"}
      }
    },
    {
      "data": {"name": "lab1"},
      "mark": {"type": "text", "opacity": 0, "fontSize": 10},
      "encoding": {
        "x": {"field": "t", "type": "quantitative", "scale": {"domain": [-141.5, 143.3], "nice": false, "zero": false},
              "axis": {"orient": "top", "values": [-125,-75,-25,25,75,125], "domain": false, "labels": false, "title": null, "tickSize": 3, "offset": -3}},
        "y": {"field": "v", "type": "quantitative", "axis": null},
        "text": {"field": "txt"}
      }
    }
  ],
  "resolve": {"axis": {"x": "independent", "y": "independent"}}
},
{
  "width": 805, "height": 526,
  "layer": [
    {
      "data": {"name": "nd3"},
      "mark": {"type": "line", "strokeWidth": 4.5},
      "encoding": {
        "x": {"field": "t", "type": "quantitative", "scale": {"domain": [-141.5, 143.3], "nice": false, "zero": false},
              "axis": {"orient": "bottom", "values": [-100,-50,0,50,100], "labelExpr": "'' + datum.value", "ticks": false,
                       "labelBaseline": "alphabetic", "labelPadding": 36,
                       "title": "time (μs)", "titleFontSize": 27, "titleY": 66, "titleBaseline": "alphabetic"}},
        "y": {"field": "v", "type": "quantitative", "scale": {"domain": [-0.025, 1.165], "nice": false, "zero": false},
              "axis": {"orient": "left", "values": [0,0.2,0.4,0.6,0.8,1], "format": "~g", "ticks": false, "labelPadding": 12,
                       "title": "ammonia signal (arb. units)", "titleX": -70, "titleY": 242, "titleAngle": -90, "titleAlign": "center", "titleBaseline": "alphabetic"}},
        "color": {"field": "s", "type": "nominal", "legend": null,
                  "scale": {"domain": ["black","sky","blue","green","red"], "range": ["#000000","#1E96F0","#0A0AE6","#16E016","#F01010"]}}
      }
    },
    {
      "data": {"name": "lab2"},
      "mark": {"type": "text", "font": "DejaVu Sans", "fontWeight": "bold", "fontSize": 71, "color": "#F50000", "align": "left", "baseline": "alphabetic"},
      "encoding": {
        "x": {"field": "t", "type": "quantitative", "scale": {"domain": [-141.5, 143.3], "nice": false, "zero": false},
              "axis": {"orient": "bottom", "values": [-100,-50,0,50,100], "domain": false, "labels": false, "title": null, "tickSize": 6, "offset": -6}},
        "y": {"field": "v", "type": "quantitative", "scale": {"domain": [-0.025, 1.165], "nice": false, "zero": false},
              "axis": {"orient": "left", "values": [0,0.2,0.4,0.6,0.8,1], "domain": false, "labels": false, "title": null, "tickSize": 7, "offset": -7}},
        "text": {"field": "txt"}
      }
    },
    {
      "data": {"name": "sub2"},
      "mark": {"type": "text", "font": "DejaVu Sans", "fontWeight": "bold", "fontSize": 51, "color": "#F50000", "align": "left", "baseline": "alphabetic"},
      "encoding": {
        "x": {"field": "t", "type": "quantitative", "scale": {"domain": [-141.5, 143.3], "nice": false, "zero": false},
              "axis": {"orient": "bottom", "values": [-125,-75,-25,25,75,125], "domain": false, "labels": false, "title": null, "tickSize": 3, "offset": -3}},
        "y": {"field": "v", "type": "quantitative", "axis": null},
        "text": {"field": "txt"}
      }
    }
  ],
  "resolve": {"axis": {"x": "independent", "y": "independent"}}
}
]
}
